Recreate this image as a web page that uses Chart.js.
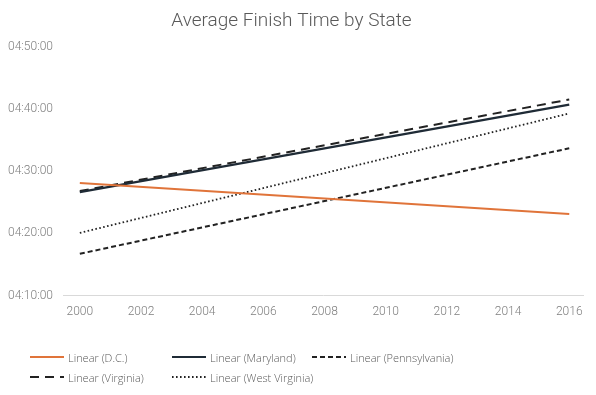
<!DOCTYPE html>
<html>
<head>
<meta charset="utf-8">
<script src="https://cdn.jsdelivr.net/npm/chart.js@4/dist/chart.umd.min.js"></script>
<style>
  html, body { margin: 0; padding: 0; background: #fff; }
  #wrap { position: relative; width: 596px; height: 395px; }
  #c { position: absolute; left: 0; top: 0; }
  #legend { position: absolute; left: 0; top: 0; width: 596px; height: 395px; pointer-events: none;
            font-family: 'Open Sans', Roboto, sans-serif; font-weight: 300; font-size: 11px; color: #595959; }
  .item { position: absolute; display: flex; align-items: center; white-space: nowrap; }
  .item svg { margin-right: 4px; }
</style>
</head>
<body>
<div id="wrap">
  <canvas id="c" width="596" height="395"></canvas>
  <div id="legend"></div>
</div>
<script>
// ---- Data (trendline endpoints, seconds since 00:00:00) ----
const years = [2000, 2016];
const seriesNames = ['Linear (D.C.)', 'Linear (Maryland)', 'Linear (Pennsylvania)', 'Linear (Virginia)', 'Linear (West Virginia)'];
const dcTimes = [16085, 15787];          // 4:28:05 -> 4:23:07
const marylandTimes = [15998, 16843];    // 4:26:38 -> 4:40:43
const pennsylvaniaTimes = [15403, 16421];// 4:16:43 -> 4:33:41
const virginiaTimes = [16008, 16891];    // 4:26:48 -> 4:41:31
const westVirginiaTimes = [15605, 16757];// 4:20:05 -> 4:39:17
const yearTicks = [2000, 2002, 2004, 2006, 2008, 2010, 2012, 2014, 2016];
const timeTicks = [15000, 15600, 16200, 16800, 17400];

const styles = [
  { color: '#E0743A', width: 2, dash: [] },
  { color: '#1F2B36', width: 2.2, dash: [] },
  { color: '#222222', width: 2, dash: [5, 3] },
  { color: '#222222', width: 2, dash: [9, 6] },
  { color: '#222222', width: 1.8, dash: [1.6, 2.4] }
];
const seriesValues = [dcTimes, marylandTimes, pennsylvaniaTimes, virginiaTimes, westVirginiaTimes];

function fmt(v) {
  const h = Math.floor(v / 3600), m = Math.floor((v % 3600) / 60), s = Math.round(v % 60);
  const p = n => String(n).padStart(2, '0');
  return p(h) + ':' + p(m) + ':' + p(s);
}

const datasets = seriesNames.map((name, i) => ({
  label: name,
  data: years.map((y, j) => ({ x: y, y: seriesValues[i][j] })),
  borderColor: styles[i].color,
  backgroundColor: styles[i].color,
  borderWidth: styles[i].width,
  borderDash: styles[i].dash,
  pointRadius: 0,
  fill: false,
  tension: 0
}));

const tickFont = { family: "Roboto, 'Open Sans', sans-serif", size: 12, weight: 300 };

new Chart(document.getElementById('c'), {
  type: 'line',
  data: { datasets },
  options: {
    responsive: false,
    animation: false,
    layout: { padding: { left: 0, right: 13, top: 0, bottom: 67 } },
    plugins: {
      legend: { display: false },
      tooltip: { enabled: false },
      title: {
        display: true,
        text: 'Average Finish Time by State',
        color: '#595959',
        font: { family: "Roboto, 'Open Sans', sans-serif", size: 19, weight: 300 },
        padding: { top: 10, bottom: 14 }
      }
    },
    scales: {
      x: {
        type: 'linear',
        min: 1999.45,
        max: 2016.45,
        afterBuildTicks: s => { s.ticks = yearTicks.map(v => ({ value: v })); },
        ticks: { color: '#7F7F7F', font: tickFont, padding: 9, maxRotation: 0,
                 callback: v => String(v) },
        grid: { display: false, drawTicks: false },
        border: { display: true, color: '#D9D9D9', width: 1 }
      },
      y: {
        min: 15000,
        max: 17400,
        afterBuildTicks: s => { s.ticks = timeTicks.map(v => ({ value: v })); },
        afterFit: s => { s.width = 63; },
        ticks: { color: '#7F7F7F', font: tickFont, padding: 10, callback: v => fmt(v) },
        grid: { display: false, drawTicks: false },
        border: { display: false }
      }
    }
  }
});

// ---- HTML legend built from the datasets ----
const legendPos = [[30, 357], [172, 357], [312, 357], [30, 377], [172, 377]];
const legend = document.getElementById('legend');
datasets.forEach((ds, i) => {
  const el = document.createElement('div');
  el.className = 'item';
  el.style.left = legendPos[i][0] + 'px';
  el.style.top = (legendPos[i][1] - 8) + 'px';
  el.style.height = '16px';
  const dash = styles[i].dash.length ? styles[i].dash.join(' ') : 'none';
  el.innerHTML = '<svg width="34" height="6"><line x1="0" y1="3" x2="34" y2="3" stroke="' + styles[i].color +
    '" stroke-width="' + styles[i].width + '" stroke-dasharray="' + dash + '"/></svg><span>' + ds.label + '</span>';
  legend.appendChild(el);
});
</script>
</body>
</html>
